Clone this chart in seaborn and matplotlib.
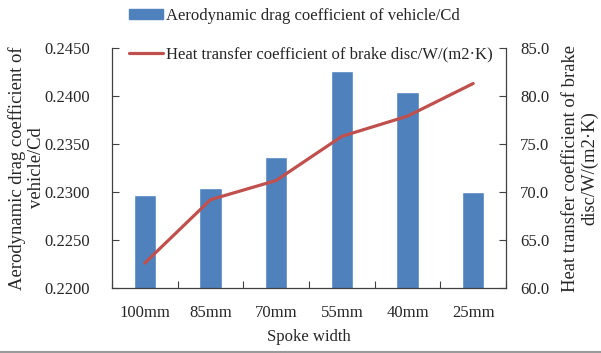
import numpy as np
import pandas as pd
import matplotlib
matplotlib.use("Agg")
import matplotlib.pyplot as plt
import seaborn as sns
from matplotlib.patches import Patch
from matplotlib.lines import Line2D

categories = ["100mm", "85mm", "70mm", "55mm", "40mm", "25mm"]
drag_cd = [0.2297, 0.2304, 0.2336, 0.2426, 0.2404, 0.2300]
heat_tc = [62.6, 69.2, 71.2, 75.8, 77.9, 81.3]
left_ticks = [0.2200, 0.2250, 0.2300, 0.2350, 0.2400, 0.2450]
right_ticks = [60.0, 65.0, 70.0, 75.0, 80.0, 85.0]

sns.set_theme(style="white")
plt.rcParams["font.family"] = ["Liberation Serif", "DejaVu Serif"]

FS = 12
LFS = 13.4
BLUE = "#4F81BD"
RED = "#C0504D"
DARK = "#404040"

df = pd.DataFrame({"cat": categories, "cd": drag_cd, "htc": heat_tc})

fig = plt.figure(figsize=(6.01, 3.53), dpi=100)
ax = fig.add_axes([112/601, 65/353, 394/601, 240/353])
sns.barplot(data=df, x="cat", y="cd", color=BLUE, width=0.34, ax=ax, saturation=1)
ax.set_ylim(0.22, 0.245)
ax.set_yticks(left_ticks)
ax.set_yticklabels([f"{v:.4f}" for v in left_ticks], fontsize=FS)
ax.set_xlim(-0.5, len(categories) - 0.5)

ax2 = ax.twinx()
sns.lineplot(x=np.arange(len(categories)), y=heat_tc, ax=ax2, color=RED, lw=2.3, sort=False)
ax2.set_ylim(60, 85)
ax2.set_yticks(right_ticks)
ax2.set_yticklabels([f"{v:.1f}" for v in right_ticks], fontsize=FS)
ax2.set_xlim(-0.5, len(categories) - 0.5)

ax.set_xticks(range(len(categories)))
ax.set_xticklabels(categories, fontsize=FS)
ax.set_xticks(np.arange(-0.5, len(categories)), minor=True)
ax.tick_params(axis="x", which="major", length=0, pad=12)
ax.tick_params(axis="x", which="minor", direction="in", length=5, width=0.8, color=DARK, bottom=True)
ax.tick_params(axis="y", direction="in", length=5, width=0.8, color=DARK, left=True, pad=16)
ax2.tick_params(axis="y", direction="in", length=5, width=0.8, color=DARK, right=True, pad=10)

for a in (ax, ax2):
    for s in ["left", "right", "bottom"]:
        a.spines[s].set_visible(True)
        a.spines[s].set_color(DARK)
        a.spines[s].set_linewidth(0.9)
    a.spines["top"].set_visible(False)
ax2.spines["left"].set_visible(False)
ax2.spines["bottom"].set_visible(False)
ax.spines["right"].set_visible(False)

ax.set_xlabel("Spoke width", fontsize=FS)
ax.xaxis.set_label_coords(0.5, -(329 - 288) / 240)
ax.set_ylabel("Aerodynamic drag coefficient of\nvehicle/Cd", fontsize=LFS, linespacing=1.15)
ax.yaxis.set_label_coords((45 - 112) / 394, 0.5)
ax2.set_ylabel("Heat transfer coefficient of brake\ndisc/W/(m2·K)", fontsize=LFS, rotation=90, linespacing=1.15)
ax2.yaxis.set_label_coords((562 - 112) / 394, 0.5)

handles = [Patch(facecolor=BLUE, edgecolor=BLUE), Line2D([0], [0], color=RED, lw=2.3)]
labels = ["Aerodynamic drag coefficient of vehicle/Cd", "Heat transfer coefficient of brake disc/W/(m2·K)"]
fig.legend(handles, labels, loc="upper left", bbox_to_anchor=(124/601, 1 - 3/353), frameon=False,
           fontsize=FS, handlelength=2.05, handleheight=0.55, handletextpad=0.2, labelspacing=1.35,
           borderaxespad=0, borderpad=0.3)

fig.add_artist(Line2D([0, 1], [1.5/353, 1.5/353], transform=fig.transFigure, color="#9a9a9a", lw=1.5))

fig.savefig("out.png", dpi=100)
